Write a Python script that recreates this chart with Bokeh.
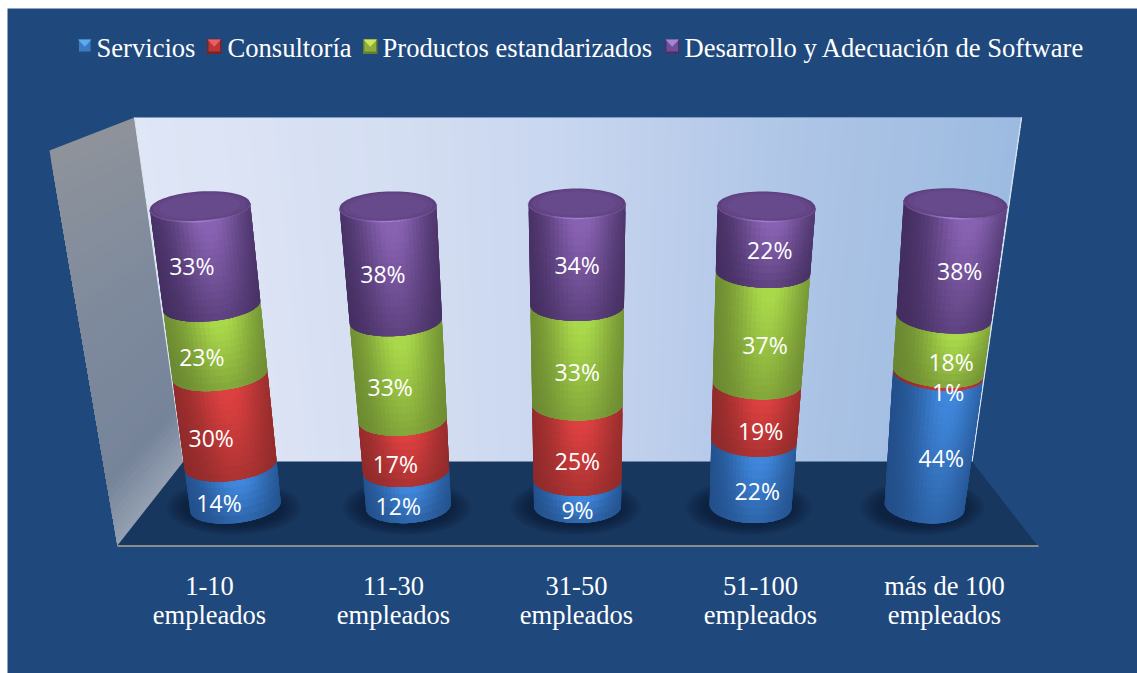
import math

from bokeh.core.properties import value
from bokeh.embed import file_html
from bokeh.models import Range1d
from bokeh.plotting import figure
from bokeh.resources import INLINE

# Survey shares per company size
size_line1 = ["1-10", "11-30", "31-50", "51-100", "más de 100"]
size_line2 = ["empleados", "empleados", "empleados", "empleados", "empleados"]
series_names = ["Servicios", "Consultoría", "Productos estandarizados", "Desarrollo y Adecuación de Software"]
servicios = [14, 12, 9, 22, 44]
consultoria = [30, 17, 25, 19, 1]
productos = [23, 33, 33, 37, 18]
desarrollo = [33, 38, 34, 22, 38]
stack = [servicios, consultoria, productos, desarrollo]

# Series shading: bright and dark side of each cylinder band
bright = ["#3f87dc", "#dc4040", "#a9d84a", "#8862b2"]
dark = ["#204a82", "#862828", "#65802f", "#3d2958"]
swatch_top = ["#5cabef", "#ea5f5f", "#cfe75c", "#a584d0"]
swatch_side = ["#3a7cc4", "#bb3636", "#8fae3e", "#6f4e9c"]
swatch_low = ["#234a7c", "#7c2222", "#64802c", "#4a3068"]

# Scene layout, in screen-like units
PANEL = "#1f497d"
FLOOR = "#17375e"
top_cx = [199.5, 387.5, 576.5, 766.0, 955.0]
base_cx = [235.0, 408.0, 577.0, 750.0, 924.0]
top_hw = [50.5, 48.5, 48.5, 49.0, 52.0]
base_hw = [45.5, 42.5, 43.5, 41.0, 40.0]
top_y = [206.0, 206.0, 203.0, 206.0, 203.0]
base_y = 506.0
top_ry = 15.0
base_ry = 16.5
light_pos = [0.12, 0.06, 0.08, 0.14, 0.28]
label_dx = [-14, -9, 0, 5, 10]
label_dy = [17, 18.5, 17, 10]
size_cx = [209, 393, 576, 760, 944]
legend_text_x = [96, 227, 382, 684]
legend_box_x = [77, 206.5, 362.5, 664.5]


def hex_rgb(c):
    return tuple(int(c[i:i + 2], 16) for i in (1, 3, 5))


def mix(a, b, f):
    f = max(0.0, min(1.0, f))
    ra, rb = hex_rgb(a), hex_rgb(b)
    return "#%02x%02x%02x" % tuple(round(x + (y - x) * f) for x, y in zip(ra, rb))


def ramp(stops, t):
    for (t0, c0), (t1, c1) in zip(stops, stops[1:]):
        if t <= t1:
            return mix(c0, c1, (t - t0) / (t1 - t0))
    return stops[-1][1]


def lerp(a, b, f):
    return a + (b - a) * f


p = figure(width=1137, height=673, output_backend="svg", toolbar_location=None,
           x_range=Range1d(0, 1137), y_range=Range1d(673, 0),
           background_fill_color="#ffffff", border_fill_color="#ffffff",
           min_border=0, outline_line_color=None)
p.xaxis.visible = False
p.yaxis.visible = False
p.xgrid.visible = False
p.ygrid.visible = False

p.quad(left=7, right=1137, top=8, bottom=673, fill_color=PANEL, line_color=None)

# Side wall, each strip running down to the wall's lower end and overpainted by the next
side_stops = [(0, "#8e939b"), (0.45, "#7e8a9c"), (0.85, "#76849a"), (1, "#95a1b2")]
SIDE_ROWS = 60
side_xs, side_ys, side_cs = [], [], []
for i in range(SIDE_ROWS):
    v0 = i / SIDE_ROWS
    side_xs.append([lerp(49, 117, v0), lerp(134, 183, v0), 183, 117])
    side_ys.append([lerp(150, 545, v0), lerp(117, 461, v0), 461, 545])
    side_cs.append(ramp(side_stops, (i + 0.5) / SIDE_ROWS))
p.patches(side_xs, side_ys, fill_color=side_cs, line_color=None)

# Back wall, painted the same way from left to right
back_stops = [(0, "#dfe6f6"), (0.3, "#d4def2"), (0.5, "#c7d5ef"), (0.75, "#aec5e6"), (1, "#9cbbe0")]
BACK_COLS = 70
back_xs, back_ys, back_cs = [], [], []
for i in range(BACK_COLS):
    u0 = i / BACK_COLS
    back_xs.append([lerp(134, 1021, u0), 1021, 971.5, lerp(183, 971.5, u0)])
    back_ys.append([117, 117, 461, 461])
    back_cs.append(ramp(back_stops, (i + 0.5) / BACK_COLS))
p.patches(back_xs, back_ys, fill_color=back_cs, line_color=None)

p.line([134, 1021], [117, 117], line_color="#7d9bc4", line_width=1.2)
p.line([134, 183], [117, 461], line_color="#dfe6f4", line_width=1.0)
p.line([1021, 971.5], [117, 461], line_color="#d5e0f0", line_width=1.3)

# Floor and its front edge
p.patch([183, 971.5, 1037, 117], [461, 461, 545, 545], fill_color=FLOOR, line_color=None)
p.line([117, 1038], [545.5, 545.5], line_color="#8c8c8c", line_width=2)

# Soft contact shadows under the cylinders
for c in range(5):
    for k in range(11):
        grow = 22 - k * 2.0
        pts = [2 * math.pi * j / 72 for j in range(72)]
        sx = [base_cx[c] - 2 + (base_hw[c] + grow) * math.cos(a) for a in pts]
        sy = [base_y + 1 + (base_ry + grow * 0.5) * math.sin(a) for a in pts]
        p.patch(sx, sy, fill_color="#0a1a33", fill_alpha=0.08, line_color=None)


def frame(c, t):
    """Centre, half width, depth and unit vectors of a cross-section at height t (0 base, 1 top)."""
    cx = lerp(base_cx[c], top_cx[c], t)
    cy = lerp(base_y, top_y[c], t)
    hw = lerp(base_hw[c], top_hw[c], t)
    ry = lerp(base_ry, top_ry, t)
    ax, ay = base_cx[c] - top_cx[c], base_y - top_y[c]
    n = math.hypot(ax, ay)
    vx, vy = ax / n, ay / n
    # the sections flatten a little towards the top of the cylinder
    ux, uy = vy, -vx * (1 - 0.4 * t ** 4)
    return cx, cy, hw, ry, ux, uy, vx, vy


def rim(c, t, theta):
    cx, cy, hw, ry, ux, uy, vx, vy = frame(c, t)
    w, d = math.cos(theta), math.sin(theta)
    return cx + hw * w * ux + ry * d * vx, cy + hw * w * uy + ry * d * vy


# Cylinder bands: cells overlap their right and lower neighbours, which paint over them
ANGLES = 32
band_xs, band_ys, band_cs = [], [], []
for c in range(5):
    total = sum(s[c] for s in stack)
    span = base_y - top_y[c]
    cum = 0.0
    for s, series in enumerate(stack):
        t0 = cum / total
        cum += series[c]
        t1 = cum / total
        rows = max(1, round((t1 - t0) * span / 7))
        for r in range(rows):
            # r = 0 is the upper edge of the band
            a_hi = lerp(t1, t0, r / rows)
            a_lo = lerp(t1, t0, min(rows, r + 2) / rows)
            vert = 1 - 0.62 * ((r + 0.5) / rows) ** 1.1
            for a in range(ANGLES):
                th0 = math.pi - math.pi * a / ANGLES
                th1 = math.pi - math.pi * min(ANGLES, a + 2) / ANGLES
                th_mid = math.pi - math.pi * (a + 0.5) / ANGLES
                horiz = math.exp(-(((math.cos(th_mid) - light_pos[c]) / 0.72) ** 2))
                col = mix(dark[s], bright[s], horiz * vert + 0.06)
                th_fan = [th0 + (th1 - th0) * k / 2 for k in range(3)]
                upper = [rim(c, a_hi, th) for th in th_fan]
                lower = [rim(c, a_lo, th) for th in reversed(th_fan)]
                q = upper + lower
                band_xs.append([pt[0] for pt in q])
                band_ys.append([pt[1] for pt in q])
                band_cs.append(col)
p.patches(band_xs, band_ys, fill_color=band_cs, line_color=None)

# Caps on top of the cylinders
for c in range(5):
    for scale, col in [(1.0, "#5d3f7e"), (0.93, "#644687"), (0.8, "#674a8b")]:
        cx, cy, hw, ry, ux, uy, vx, vy = frame(c, 1.0)
        pts = [2 * math.pi * j / 72 for j in range(72)]
        ex = [cx + scale * (hw * math.cos(a) * ux + ry * math.sin(a) * vx) for a in pts]
        ey = [cy + scale * (hw * math.cos(a) * uy + ry * math.sin(a) * vy) for a in pts]
        p.patch(ex, ey, fill_color=col, line_color=None)
    seg_x, seg_y, seg_c = [], [], []
    for a in range(40):
        th0 = math.pi - math.pi * a / 40
        th1 = math.pi - math.pi * (a + 1) / 40
        w = math.cos((th0 + th1) / 2)
        x0, y0 = rim(c, 1.0, th0)
        x1, y1 = rim(c, 1.0, th1)
        seg_x.append([x0, x1])
        seg_y.append([y0, y1])
        seg_c.append(mix("#674a8b", "#a27fd0", math.exp(-((w / 0.5) ** 2))))
    p.multi_line(seg_x, seg_y, line_color=seg_c, line_width=1.6)

# Percentage labels
lab_x, lab_y, lab_t = [], [], []
for c in range(5):
    total = sum(s[c] for s in stack)
    cum = 0.0
    for s, series in enumerate(stack):
        mid = (cum + series[c] / 2) / total
        cum += series[c]
        lab_x.append(lerp(base_cx[c], top_cx[c], mid) + label_dx[c])
        lab_y.append(lerp(base_y, top_y[c], mid) + label_dy[s])
        lab_t.append(f"{series[c]}%")
p.text(lab_x, lab_y, text=lab_t, text_color="#ffffff", text_font=value("Open Sans"),
       text_font_size="23px", text_align="center", text_baseline="middle")

# Category names under the floor
p.text(size_cx, [585] * 5, text=size_line1, text_color="#ffffff", text_font=value("Liberation Serif"),
       text_font_size="26.5px", text_align="center", text_baseline="middle")
p.text(size_cx, [614.5] * 5, text=size_line2, text_color="#ffffff", text_font=value("Liberation Serif"),
       text_font_size="26.5px", text_align="center", text_baseline="middle")

# Legend with bevelled keys
for i, name in enumerate(series_names):
    x0, y0, sz = legend_box_x[i], 39, 14.5
    x1, y1 = x0 + sz, y0 + sz
    mx, my = x0 + sz / 2, y0 + sz * 0.5
    p.quad(left=x0, right=x1, top=y0, bottom=y1, fill_color=swatch_low[i], line_color=None)
    p.quad(left=x0 + 1.5, right=x1 - 1.5, top=y0, bottom=y1 - 2.5, fill_color=swatch_side[i], line_color=None)
    p.patch([x0 + 0.5, x1 - 0.5, mx], [y0, y0, my], fill_color=swatch_top[i], line_color=None)
p.text(legend_text_x, [47] * 4, text=series_names, text_color="#ffffff", text_font=value("Liberation Serif"),
       text_font_size="26.6px", text_align="left", text_baseline="middle")

open("out.html", "w").write(file_html(p, INLINE))
